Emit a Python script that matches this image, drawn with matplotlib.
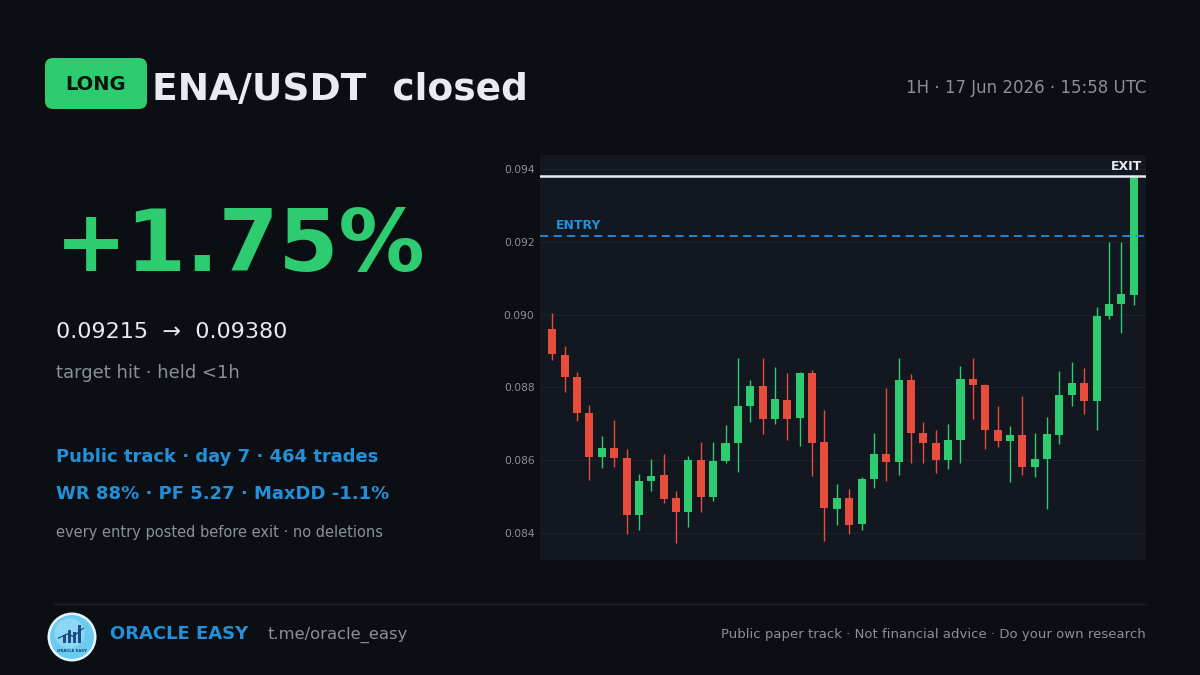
import matplotlib
matplotlib.use("Agg")
import matplotlib.pyplot as plt
from matplotlib.patches import FancyBboxPatch, Rectangle, Circle
import numpy as np

plt.rcParams['font.family'] = ['DejaVu Sans']

# ---------------- data ----------------
opens = [0.08960, 0.08889, 0.08828, 0.08730, 0.08609, 0.08634, 0.08607, 0.08450,
         0.08543, 0.08559, 0.08496, 0.08459, 0.08601, 0.08500, 0.08599, 0.08648,
         0.08749, 0.08804, 0.08714, 0.08765, 0.08717, 0.08840, 0.08649, 0.08467,
         0.08496, 0.08425, 0.08548, 0.08617, 0.08596, 0.08820, 0.08674, 0.08647,
         0.08601, 0.08655, 0.08823, 0.08807, 0.08683, 0.08654, 0.08669, 0.08582,
         0.08604, 0.08669, 0.08779, 0.08813, 0.08763, 0.08997, 0.09029, 0.09054]
highs = [0.09004, 0.08915, 0.08843, 0.08752, 0.08667, 0.08710, 0.08631, 0.08562,
         0.08603, 0.08616, 0.08516, 0.08612, 0.08651, 0.08651, 0.08697, 0.08882,
         0.08820, 0.08882, 0.08857, 0.08839, 0.08843, 0.08848, 0.08738, 0.08535,
         0.08521, 0.08555, 0.08674, 0.08799, 0.08882, 0.08837, 0.08706, 0.08683,
         0.08699, 0.08859, 0.08882, 0.08808, 0.08749, 0.08694, 0.08776, 0.08674,
         0.08720, 0.08846, 0.08871, 0.08852, 0.09022, 0.09200, 0.09200, 0.09380]
lows = [0.08875, 0.08788, 0.08709, 0.08546, 0.08578, 0.08582, 0.08397, 0.08408,
        0.08515, 0.08483, 0.08372, 0.08417, 0.08459, 0.08489, 0.08591, 0.08567,
        0.08706, 0.08672, 0.08699, 0.08655, 0.08639, 0.08557, 0.08378, 0.08422,
        0.08397, 0.08408, 0.08524, 0.08543, 0.08559, 0.08591, 0.08591, 0.08566,
        0.08576, 0.08593, 0.08712, 0.08631, 0.08637, 0.08541, 0.08559, 0.08553,
        0.08466, 0.08644, 0.08749, 0.08727, 0.08683, 0.08987, 0.08949, 0.09026]
closes = [0.08892, 0.08829, 0.08730, 0.08610, 0.08634, 0.08607, 0.08450, 0.08543,
          0.08557, 0.08493, 0.08459, 0.08601, 0.08500, 0.08598, 0.08647, 0.08749,
          0.08804, 0.08714, 0.08768, 0.08714, 0.08840, 0.08648, 0.08470, 0.08495,
          0.08422, 0.08548, 0.08617, 0.08596, 0.08820, 0.08676, 0.08647, 0.08601,
          0.08655, 0.08823, 0.08807, 0.08683, 0.08654, 0.08669, 0.08582, 0.08602,
          0.08672, 0.08779, 0.08813, 0.08763, 0.08997, 0.09029, 0.09057, 0.09380]
entry_price = 0.09215
exit_price = 0.09380
y_ticks = [0.084, 0.086, 0.088, 0.090, 0.092, 0.094]

# ---------------- styles ----------------
BG = "#0b0e13"
PANEL = "#121720"
GRID = "#1b212b"
GREEN = "#2ecc71"
RED = "#e74c3c"
BLUE = "#2390d8"
WHITE = "#e8ecf2"
GRAY = "#8a919c"

fig = plt.figure(figsize=(12, 6.75), dpi=100, facecolor=BG)

# background overlay axes in pixel coordinates
ax0 = fig.add_axes([0, 0, 1, 1])
ax0.set_xlim(0, 1200)
ax0.set_ylim(675, 0)
ax0.axis("off")
ax0.set_facecolor(BG)

# LONG badge
badge = FancyBboxPatch((45, 58), 102, 51, boxstyle="round,pad=0,rounding_size=8",
                       fc=GREEN, ec="none")
ax0.add_patch(badge)
ax0.text(96, 84, "LONG", color="#08140c", fontsize=14, fontweight="bold",
         ha="center", va="center")

ax0.text(152, 100, "ENA/USDT  closed", color=WHITE, fontsize=27, fontweight="bold",
         ha="left", va="baseline")
ax0.text(1146, 93, "1H · 17 Jun 2026 · 15:58 UTC", color=GRAY, fontsize=12,
         ha="right", va="baseline")

ax0.text(55, 271, "+1.75%", color=GREEN, fontsize=62, fontweight="bold",
         ha="left", va="baseline")
ax0.text(56, 338, "0.09215  →  0.09380", color=WHITE, fontsize=16,
         ha="left", va="baseline")
ax0.text(56, 378, "target hit · held <1h", color=GRAY, fontsize=13,
         ha="left", va="baseline")
ax0.text(56, 462, "Public track · day 7 · 464 trades", color=BLUE, fontsize=13,
         fontweight="bold", ha="left", va="baseline")
ax0.text(56, 499, "WR 88% · PF 5.27 · MaxDD -1.1%", color=BLUE, fontsize=13,
         fontweight="bold", ha="left", va="baseline")
ax0.text(56, 537, "every entry posted before exit · no deletions", color=GRAY,
         fontsize=10.5, ha="left", va="baseline")

# separator
ax0.plot([54, 1146], [604, 604], color="#1c222c", lw=1)

# footer
ax0.text(110, 639, "ORACLE EASY", color=BLUE, fontsize=13, fontweight="bold",
         ha="left", va="baseline")
ax0.text(267, 639, "t.me/oracle_easy", color=GRAY, fontsize=11.8,
         ha="left", va="baseline")
ax0.text(1146, 638, "Public paper track · Not financial advice · Do your own research",
         color=GRAY, fontsize=9.55, ha="right", va="baseline")

# logo (circle icon)
lax = fig.add_axes([47 / 1200, 1 - 662 / 675, 50 / 1200, 50 / 675])
lax.set_xlim(-1, 1)
lax.set_ylim(-1, 1)
lax.axis("off")
lax.add_patch(Circle((0, 0), 0.98, fc="#e6f7fd", ec="none"))
lax.add_patch(Circle((0, 0), 0.88, fc="#6ccbf0", ec="none"))
lax.add_patch(Circle((-0.1, 0.15), 0.6, fc="#a6e2f8", ec="none", alpha=0.6))
for bx, bh in zip([-0.38, -0.18, 0.02, 0.22], [0.35, 0.55, 0.45, 0.75]):
    lax.add_patch(Rectangle((bx, -0.25), 0.13, bh, fc="#1a4f8a", ec="none"))
lax.plot([-0.55, -0.2, 0.05, 0.45], [-0.05, 0.12, 0.02, 0.35], color="#1a3f6a", lw=0.8)
lax.text(0, -0.55, "ORACLE EASY", fontsize=2.8, color="#1a3f6a", ha="center",
         va="center", fontweight="bold")

# candle chart
ax = fig.add_axes([540 / 1200, 1 - 560 / 675, 606 / 1200, 405 / 675])
ax.set_facecolor(PANEL)
for s in ax.spines.values():
    s.set_visible(False)

x = np.arange(len(opens))
o = np.array(opens); h = np.array(highs); l = np.array(lows); c = np.array(closes)
up = c >= o
colors = np.where(up, GREEN, RED)
ax.vlines(x, l, h, colors=colors, lw=1.0, zorder=3)
body_bottom = np.minimum(o, c)
body_h = np.abs(c - o)
body_h = np.maximum(body_h, 0.00003)
ax.bar(x, body_h, bottom=body_bottom, width=0.65, color=colors, zorder=4,
       linewidth=0)

ax.axhline(exit_price, color=WHITE, lw=1.8, zorder=5)
ax.axhline(entry_price, color=BLUE, lw=1.3, ls=(0, (4.5, 3)), zorder=5)
ax.text(0.25, entry_price + 0.00012, "ENTRY", color=BLUE, fontsize=9,
        fontweight="bold", ha="left", va="bottom", zorder=6)
ax.text(47.7, exit_price + 0.0001, "EXIT", color=WHITE, fontsize=9,
        fontweight="bold", ha="right", va="bottom", zorder=6)

ax.set_xlim(-1, 48)
ax.set_ylim(0.083258, 0.094385)
ax.set_yticks(y_ticks)
ax.set_yticklabels([f"{t:.3f}" for t in y_ticks])
ax.tick_params(axis="y", length=0, pad=4, labelsize=7.7, labelcolor=GRAY)
ax.set_xticks([])
ax.grid(axis="y", color=GRID, lw=0.8, zorder=0)
ax.set_axisbelow(True)

fig.savefig("out.png", dpi=100, facecolor=BG)
